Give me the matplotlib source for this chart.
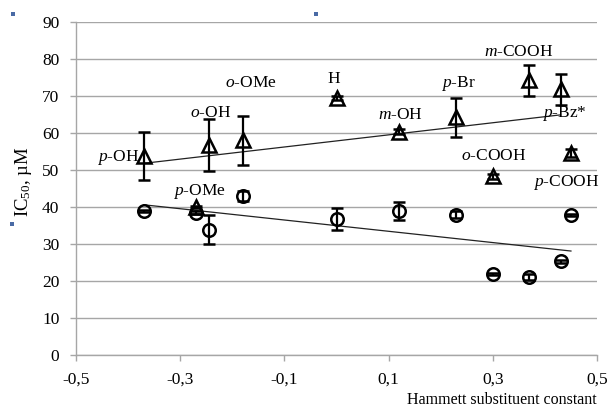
import matplotlib
matplotlib.use("Agg")
import matplotlib.pyplot as plt
from matplotlib.patches import Rectangle

# Hammett constants of the substituents
SUBST = ["p-OH", "p-OMe", "o-OH", "o-OMe", "H", "m-OH", "p-Br",
         "o-COOH", "m-COOH", "p-Bz*", "p-COOH"]
SIGMA = [-0.37, -0.27, -0.245, -0.18, 0.0, 0.12, 0.23, 0.30, 0.37, 0.43, 0.45]

# triangles (upper series)
TRI_IC50 = [53.8, 40.0, 56.8, 58.0, 69.4, 60.4, 64.2, 48.3, 74.2, 71.8, 54.6]
TRI_ERR = [6.6, 0.3, 7.1, 6.6, 0.6, 0.6, 5.3, 0.7, 4.2, 4.1, 1.0]

# circles (lower series)
CIR_IC50 = [39.0, 38.5, 33.9, 42.9, 36.8, 39.0, 37.9, 21.8, 21.1, 25.3, 37.8]
CIR_ERR = [0.3, 0.5, 4.0, 1.3, 3.0, 2.4, 1.0, 0.3, 0.8, 0.3, 0.3]

# linear trend lines (x ends, y ends)
TRI_TREND_X = [-0.37, 0.43]
TRI_TREND_Y = [51.8, 64.9]
CIR_TREND_X = [-0.37, 0.45]
CIR_TREND_Y = [40.6, 28.1]

# label placement (x, y, ha) per substituent
LABELS = [
    ("p", "-OH", -0.378, 53.4, "right"),
    ("p", "-OMe", -0.263, 44.3, "center"),
    ("o", "-OH", -0.241, 65.5, "center"),
    ("o", "-OMe", -0.165, 73.6, "center"),
    ("", "H", -0.005, 74.5, "center"),
    ("m", "-OH", 0.123, 64.8, "center"),
    ("p", "-Br", 0.233, 73.3, "center"),
    ("o", "-COOH", 0.301, 53.7, "center"),
    ("m", "-COOH", 0.349, 81.9, "center"),
    ("p", "-Bz*", 0.437, 65.2, "center"),
    ("p", "-COOH", 0.44, 46.7, "center"),
]

plt.rcParams.update({
    "font.family": ["Liberation Serif", "DejaVu Serif"],
    "mathtext.fontset": "custom",
    "mathtext.rm": "Liberation Serif",
    "mathtext.it": "Liberation Serif:italic",
    "font.size": 12,
})

fig = plt.figure(figsize=(6.13, 4.07), dpi=100)
ax = fig.add_axes([76 / 613, 52 / 407, 521 / 613, 333 / 407])

grey = "#a6a6a6"
ax.set_xlim(-0.5, 0.5)
ax.set_ylim(0, 90)
ax.set_xticks([-0.5, -0.3, -0.1, 0.1, 0.3, 0.5])
ax.set_xticklabels(["-0,5", "-0,3", "-0,1", "0,1", "0,3", "0,5"])
ax.set_yticks(range(0, 91, 10))
ax.yaxis.grid(True, color=grey, lw=1.0)
ax.set_axisbelow(True)
for s in ("top", "right"):
    ax.spines[s].set_visible(False)
for s in ("left", "bottom"):
    ax.spines[s].set_color(grey)
    ax.spines[s].set_linewidth(1.0)
ax.tick_params(direction="out", length=4, width=1, color=grey, labelsize=12.5)
ax.tick_params(axis="x", pad=8)
ax.tick_params(axis="y", pad=8)

ax.plot(TRI_TREND_X, TRI_TREND_Y, color="#222222", lw=0.9, zorder=2)
ax.plot(CIR_TREND_X, CIR_TREND_Y, color="#222222", lw=0.9, zorder=2)

ax.errorbar(SIGMA, TRI_IC50, yerr=TRI_ERR, fmt="^", ms=10, mfc="none",
            mec="black", mew=1.8, ecolor="black", elinewidth=1.6,
            capsize=4, capthick=1.6, zorder=3)
ax.errorbar(SIGMA, CIR_IC50, yerr=CIR_ERR, fmt="o", ms=9, mfc="none",
            mec="black", mew=1.8, ecolor="black", elinewidth=1.6,
            capsize=4, capthick=1.6, zorder=3)

for it, rest, x, y, ha in LABELS:
    txt = (r"$\it{" + it + "}$" + rest) if it else rest
    ax.text(x, y, txt, ha=ha, va="center", fontsize=12.5, zorder=4)

ax.set_ylabel(r"IC$_{50}$, µM", fontsize=13.5)
ax.yaxis.set_label_coords(-0.08, 0.52)
fig.text(597 / 613, 2.5 / 407, "Hammett substituent constant",
         ha="right", va="baseline", fontsize=11.5)

# small stray marks present in the original figure
for px, py in [(13, 14), (316, 14), (12, 224)]:
    fig.add_artist(Rectangle(((px - 2) / 613, 1 - (py + 2) / 407),
                             4 / 613, 4 / 407, transform=fig.transFigure,
                             color="#4a6aa5", lw=0))

fig.savefig("out.png", dpi=100)
